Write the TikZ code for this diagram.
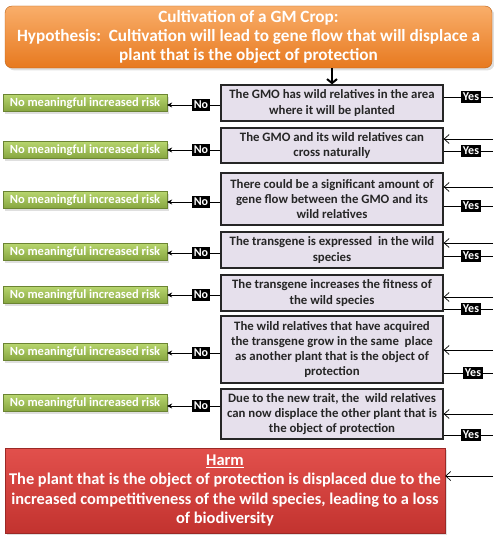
\documentclass[tikz,border=0pt]{standalone}
\usepackage{fontspec}
\setmainfont{Carlito}
\usetikzlibrary{arrows.meta,shadows}
\definecolor{hyptop}{HTML}{F9AE6A}
\definecolor{hypbot}{HTML}{E7791F}
\definecolor{qfill}{HTML}{E6E0EC}
\definecolor{greentop}{HTML}{B7D56E}
\definecolor{greenbot}{HTML}{86A53F}
\definecolor{harmtop}{HTML}{E2504C}
\definecolor{harmbot}{HTML}{C2332F}
\tikzstyle{hypothesis} = [rounded corners=7pt, top color=hyptop, bottom color=hypbot, draw=hypbot!80!black, line width=0.4pt, drop shadow={opacity=0.25}, text=white, align=center, font=\bfseries\fontsize{17.2}{19}\selectfont, minimum width=487pt, minimum height=62pt, inner sep=0pt]
\tikzstyle{question} = [draw=black!85, line width=1.3pt, fill=qfill, text=black!85, align=center, font=\bfseries\fontsize{12.8}{15.3}\selectfont, minimum width=222pt, inner sep=0pt]
\tikzstyle{norisk} = [top color=greentop, bottom color=greenbot, draw=greenbot!80!black, line width=0.3pt, drop shadow={opacity=0.25}, text=white, font=\bfseries\fontsize{12.5}{15}\selectfont, minimum width=164pt, minimum height=17pt, inner sep=0pt]
\tikzstyle{answer} = [fill=black, text=white, font=\bfseries\fontsize{12}{14}\selectfont, minimum height=12pt, inner sep=1.5pt]
\tikzstyle{harmbox} = [top color=harmtop, bottom color=harmbot, draw=harmbot!80!black, line width=0.4pt, drop shadow={opacity=0.25}, text=white, align=center, font=\bfseries\fontsize{16.4}{19.3}\selectfont, minimum width=440pt, minimum height=85pt, inner sep=0pt]
\tikzstyle{connector} = [line width=0.7pt]
\tikzstyle{loopback} = [line width=0.7pt, -{Straight Barb[length=5pt,width=9pt]}]

\begin{document}
\begin{tikzpicture}[x=1pt,y=-1pt]
  \useasboundingbox (0,0) rectangle (493,535);

  \node (hyp) [hypothesis] at (248.5,37) {Cultivation of a GM Crop:\\Hypothesis:\ \ Cultivation will lead to gene flow that will displace a\\plant that is the object of protection};

  % questions
  \node (q1) [question, minimum height=36pt] at (332,103) {The GMO has wild relatives in the area\\where it will be planted};
  \node (q2) [question, minimum height=35pt] at (332,145.5) {The GMO and its wild relatives can\\cross naturally};
  \node (q3) [question, minimum height=52pt] at (332,199) {There could be a significant amount of\\gene flow between the GMO and its\\wild relatives};
  \node (q4) [question, minimum height=36pt] at (332,250) {The transgene is expressed\ \ in the wild\\species};
  \node (q5) [question, minimum height=36pt] at (332,293) {The transgene increases the fitness of\\the wild species};
  \node (q6) [question, minimum height=67pt] at (332,349.5) {The wild relatives that have acquired\\the transgene grow in the same\ \ place\\as another plant that is the object of\\protection};
  \node (q7) [question, minimum height=50pt] at (332,414) {Due to the new trait, the\ \ wild relatives\\can now displace the other plant that is\\the object of protection};
  \node (harm) [harmbox] at (225,490.5) {\underline{Harm}\\The plant that is the object of protection is displaced due to the\\increased competitiveness of the wild species, leading to a loss\\of biodiversity};

  % no branch
  \node (no1) [answer] at (201,105) {No};
  \node (no2) [answer] at (201,150) {No};
  \node (no3) [answer] at (201,202) {No};
  \node (no4) [answer] at (201,253) {No};
  \node (no5) [answer] at (201,295) {No};
  \node (no6) [answer] at (201,353) {No};
  \node (no7) [answer] at (201,406) {No};
  \node (nr1) [norisk] at (85,103) {No meaningful increased risk};
  \node (nr2) [norisk] at (85,150) {No meaningful increased risk};
  \node (nr3) [norisk] at (85,200) {No meaningful increased risk};
  \node (nr4) [norisk] at (85,252) {No meaningful increased risk};
  \node (nr5) [norisk] at (85,295) {No meaningful increased risk};
  \node (nr6) [norisk] at (85,352) {No meaningful increased risk};
  \node (nr7) [norisk] at (85,403) {No meaningful increased risk};

  % yes branch
  \node (yes1) [answer] at (471,97) {Yes};
  \node (yes2) [answer] at (471,151) {Yes};
  \node (yes3) [answer] at (471,206) {Yes};
  \node (yes4) [answer] at (471,256) {Yes};
  \node (yes5) [answer] at (471,309) {Yes};
  \node (yes6) [answer] at (473,373) {Yes};
  \node (yes7) [answer] at (471,435) {Yes};
  \coordinate (edge) at (493,0);
  \coordinate (in2) at (493,139);
  \coordinate (in3) at (493,187);
  \coordinate (in4) at (493,243);
  \coordinate (in5) at (493,297);
  \coordinate (in6) at (493,350);
  \coordinate (in7) at (493,414);
  \coordinate (inh) at (493,476);

  \draw [line width=2pt, -{Straight Barb[length=4pt,width=10pt]}] (hyp.south -| q1.north) -- (q1.north);

  \draw [connector] (q1.west |- no1) -- (no1);
  \draw [connector] (q2.west |- no2) -- (no2);
  \draw [connector] (q3.west |- no3) -- (no3);
  \draw [connector] (q4.west |- no4) -- (no4);
  \draw [connector] (q5.west |- no5) -- (no5);
  \draw [connector] (q6.west |- no6) -- (no6);
  \draw [connector] (q7.west |- no7) -- (no7);
  \draw [connector, -{Stealth[length=5pt,width=5pt]}] (no1) -- (nr1.east |- no1);
  \draw [connector, -{Stealth[length=5pt,width=5pt]}] (no2) -- (nr2.east |- no2);
  \draw [connector, -{Stealth[length=5pt,width=5pt]}] (no3) -- (nr3.east |- no3);
  \draw [connector, -{Stealth[length=5pt,width=5pt]}] (no4) -- (nr4.east |- no4);
  \draw [connector, -{Stealth[length=5pt,width=5pt]}] (no5) -- (nr5.east |- no5);
  \draw [connector, -{Stealth[length=5pt,width=5pt]}] (no6) -- (nr6.east |- no6);
  \draw [connector, -{Stealth[length=5pt,width=5pt]}] (no7) -- (nr7.east |- no7);

  \draw [connector] (q1.east |- yes1) -- (yes1) -- (yes1 -| edge);
  \draw [connector] (q2.east |- yes2) -- (yes2) -- (yes2 -| edge);
  \draw [connector] (q3.east |- yes3) -- (yes3) -- (yes3 -| edge);
  \draw [connector] (q4.east |- yes4) -- (yes4) -- (yes4 -| edge);
  \draw [connector] (q5.east |- yes5) -- (yes5) -- (yes5 -| edge);
  \draw [connector] (q6.east |- yes6) -- (yes6) -- (yes6 -| edge);
  \draw [connector] (q7.east |- yes7) -- (yes7) -- (yes7 -| edge);

  \draw [loopback] (in2) -- (in2 -| q2.east);
  \draw [loopback] (in3) -- (in3 -| q3.east);
  \draw [loopback] (in4) -- (in4 -| q4.east);
  \draw [loopback] (in5) -- (in5 -| q5.east);
  \draw [loopback] (in6) -- (in6 -| q6.east);
  \draw [loopback] (in7) -- (in7 -| q7.east);
  \draw [loopback] (inh) -- (inh -| harm.east);
\end{tikzpicture}
\end{document}
